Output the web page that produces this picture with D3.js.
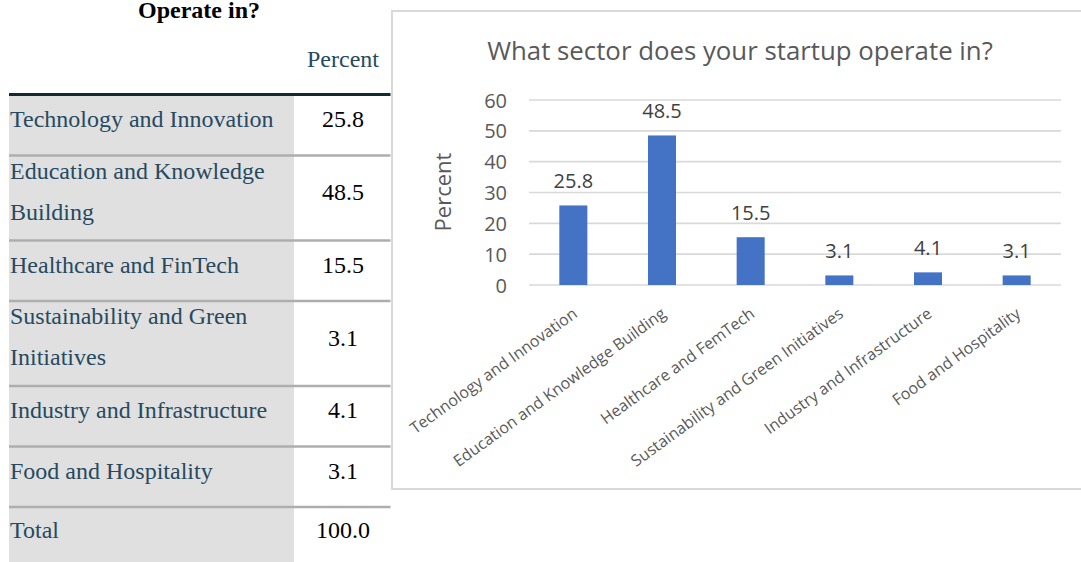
<!DOCTYPE html>
<html>
<head>
<meta charset="utf-8">
<script src="https://cdn.jsdelivr.net/npm/d3@7"></script>
<style>
  html, body { margin: 0; padding: 0; background: #fff; }
  svg { display: block; }
</style>
</head>
<body>
<svg id="view" width="1081" height="562"></svg>
<script>
// ---- Frequency table data ----
const tableTitle = "Operate in?";
const tableHeader = "Percent";
const tableLabels = [
  ["Technology and Innovation"],
  ["Education and Knowledge", "Building"],
  ["Healthcare and FinTech"],
  ["Sustainability and Green", "Initiatives"],
  ["Industry and Infrastructure"],
  ["Food and Hospitality"]
];
const tableValues = [25.8, 48.5, 15.5, 3.1, 4.1, 3.1];
const totalLabel = "Total";
const totalValue = 100.0;

// ---- Bar chart data ----
const chartTitle = "What sector does your startup operate in?";
const yAxisTitle = "Percent";
const categories = [
  "Technology and Innovation",
  "Education and Knowledge Building",
  "Healthcare and FemTech",
  "Sustainability and Green Initiatives",
  "Industry and Infrastructure",
  "Food and Hospitality"
];
const percents = [25.8, 48.5, 15.5, 3.1, 4.1, 3.1];
const yTicks = [0, 10, 20, 30, 40, 50, 60];

const svg = d3.select("#view");
const fmt = d3.format(".1f");

// ================= Table (left) =================
const serif = "'Liberation Serif', 'Times New Roman', serif";
const tbl = svg.append("g").attr("font-family", serif).attr("font-size", 24);
const tLeft = 9, tLabelRight = 294, tRight = 390.5, valCx = 343;
const rowTop0 = 95, oneLineH = 60.5, twoLineH = 85, lineGap = 41;

tbl.append("text").attr("x", 199).attr("y", 18).attr("text-anchor", "middle")
  .attr("font-weight", "bold").attr("fill", "#000").text(tableTitle);
tbl.append("text").attr("x", valCx).attr("y", 67).attr("text-anchor", "middle")
  .attr("fill", "#264a60").text(tableHeader);

// row boundaries from the number of label lines
const rows = [];
let yCursor = rowTop0;
tableLabels.forEach((lines, i) => {
  const h = lines.length > 1 ? twoLineH : oneLineH;
  rows.push({ lines, value: tableValues[i], top: yCursor, h });
  yCursor += h;
});
const totalTop = yCursor;

// grey label column
tbl.append("rect").attr("x", tLeft).attr("y", rowTop0)
  .attr("width", tLabelRight - tLeft).attr("height", 562 - rowTop0).attr("fill", "#e0e0e0");

rows.forEach(r => {
  const g = tbl.append("g");
  if (r.lines.length === 1) {
    g.append("text").attr("x", 10).attr("y", r.top + 32).attr("fill", "#264a60").text(r.lines[0]);
    g.append("text").attr("x", valCx).attr("y", r.top + 32).attr("text-anchor", "middle")
      .attr("fill", "#010205").text(fmt(r.value));
  } else {
    r.lines.forEach((ln, k) => {
      g.append("text").attr("x", 10).attr("y", r.top + 23 + k * lineGap).attr("fill", "#264a60").text(ln);
    });
    g.append("text").attr("x", valCx).attr("y", r.top + 44.5).attr("text-anchor", "middle")
      .attr("fill", "#010205").text(fmt(r.value));
  }
});
tbl.append("text").attr("x", 10).attr("y", totalTop + 31).attr("fill", "#264a60").text(totalLabel);
tbl.append("text").attr("x", valCx).attr("y", totalTop + 31).attr("text-anchor", "middle")
  .attr("fill", "#010205").text(fmt(totalValue));

// separator rules
rows.slice(1).map(r => r.top).concat([totalTop]).forEach(yy => {
  tbl.append("line").attr("x1", tLeft).attr("x2", tRight).attr("y1", yy).attr("y2", yy)
    .attr("stroke", "#aeaeae").attr("stroke-width", 2.4);
});
tbl.append("line").attr("x1", tLeft).attr("x2", tRight).attr("y1", rowTop0 - 0.5).attr("y2", rowTop0 - 0.5)
  .attr("stroke", "#152935").attr("stroke-width", 3);

// ================= Chart (right) =================
const sans = "'Open Sans', 'Noto Sans', sans-serif";
const chart = svg.append("g").attr("font-family", sans);

chart.append("rect").attr("x", 392).attr("y", 11).attr("width", 720).attr("height", 478)
  .attr("fill", "#fff").attr("stroke", "#d9d9d9").attr("stroke-width", 2);

const x = d3.scaleBand().domain(categories).range([529, 1061])
  .paddingInner(0.684).paddingOuter(0.342);
const y = d3.scaleLinear().domain([0, 60]).range([285, 100]);

chart.append("text").attr("x", 740).attr("y", 60).attr("text-anchor", "middle")
  .attr("font-size", 25.8).attr("fill", "#595959").text(chartTitle);

// gridlines
chart.append("g").selectAll("line").data(yTicks).join("line")
  .attr("x1", 529).attr("x2", 1061)
  .attr("y1", d => y(d)).attr("y2", d => y(d))
  .attr("stroke", "#d9d9d9").attr("stroke-width", 1.6);

// y axis tick labels
const yAxis = d3.axisLeft(y).tickValues(yTicks).tickSize(0).tickPadding(0).tickFormat(d3.format("d"));
const yg = chart.append("g").attr("transform", "translate(507,0)").call(yAxis);
yg.select(".domain").remove();
yg.selectAll("text").attr("font-family", sans).attr("font-size", 20).attr("fill", "#595959").attr("dy", "0.35em");

chart.append("text")
  .attr("transform", "translate(451,192) rotate(-90)")
  .attr("text-anchor", "middle").attr("font-size", 22).attr("fill", "#595959").text(yAxisTitle);

// bars
chart.append("g").selectAll("rect").data(percents).join("rect")
  .attr("x", (d, i) => x(categories[i]))
  .attr("y", d => y(d))
  .attr("width", x.bandwidth())
  .attr("height", d => y(0) - y(d))
  .attr("fill", "#4472c4");

// value labels
chart.append("g").selectAll("text").data(percents).join("text")
  .attr("x", (d, i) => x(categories[i]) + x.bandwidth() / 2)
  .attr("y", d => y(d) - 17)
  .attr("text-anchor", "middle").attr("font-size", 20).attr("fill", "#404040")
  .text(d => fmt(d));

// rotated category labels
chart.append("g").selectAll("text").data(categories).join("text")
  .attr("transform", d => `translate(${x(d) + x.bandwidth() / 2 + 5},${316}) rotate(-36)`)
  .attr("text-anchor", "end").attr("font-size", 16).attr("fill", "#595959")
  .text(d => d);
</script>
</body>
</html>
